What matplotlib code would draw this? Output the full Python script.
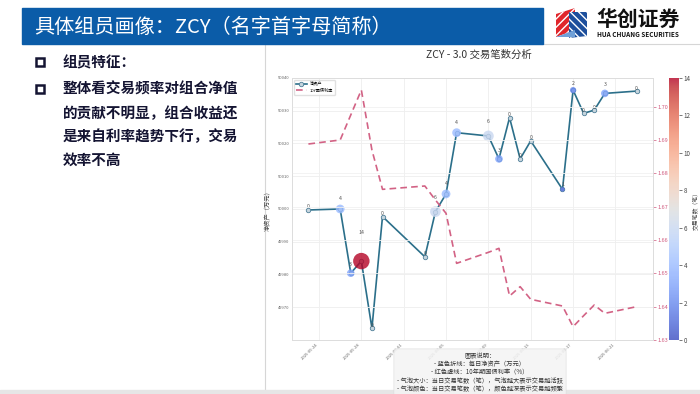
import matplotlib
matplotlib.use('Agg')
import matplotlib.pyplot as plt
import matplotlib.dates as mdates
from matplotlib.patches import Rectangle, Polygon
import numpy as np
import pandas as pd

plt.rcParams['font.family'] = ['Noto Sans CJK SC', 'DejaVu Sans']
plt.rcParams['axes.unicode_minus'] = False

# 数据
dates = ['2025-05-23', '2025-05-26', '2025-05-27', '2025-05-28', '2025-05-29', '2025-05-30',
         '2025-06-03', '2025-06-04', '2025-06-05', '2025-06-06', '2025-06-09', '2025-06-10',
         '2025-06-11', '2025-06-12', '2025-06-13', '2025-06-16', '2025-06-17', '2025-06-18',
         '2025-06-19', '2025-06-20', '2025-06-23']
net_assets = [49999.7, 50000.0, 49980.4, 49984.1, 49963.6, 49997.7, 49985.4, 49999.2,
              50004.6, 50023.3, 50022.3, 50015.3, 50027.9, 50015.3, 50020.8, 50006.0,
              50036.3, 50029.2, 50030.2, 50035.3, 50036.0]
yields = [1.6888, 1.690, 1.6975, 1.705, 1.687, 1.6752, 1.6762, 1.672, 1.668, 1.653,
          1.6563, 1.6575, 1.6432, 1.646, 1.6422, 1.6402, 1.634, 1.6373, 1.6405, 1.638, 1.640]
trades = [0, 4, 3, 14, 0, 0, 0, 6, 4, 4, 6, 3, 0, 0, 0, 1, 2, 0, 0, 3, 0]
tick_dates = ['2025-05-24', '2025-05-28', '2025-06-01', '2025-06-05',
              '2025-06-09', '2025-06-13', '2025-06-17', '2025-06-21']

slide_title = '具体组员画像：ZCY（名字首字母简称）'
bullet_lines = ['组员特征：', '整体看交易频率对组合净值', '的贡献不明显，组合收益还',
                '是来自利率趋势下行，交易', '效率不高']
note_text = ('图表说明：\n- 蓝色折线：每日净资产（万元）\n- 红色虚线：10年期国债利率（%）\n'
             '- 气泡大小：当日交易笔数（笔），气泡越大表示交易越活跃\n'
             '- 气泡颜色：当日交易笔数（笔），颜色越深表示交易越频繁')

W, H = 700, 394
fig = plt.figure(figsize=(7, 3.94), dpi=100)


def box(x0, y0, x1, y1):
    return [x0 / W, 1 - y1 / H, (x1 - x0) / W, (y1 - y0) / H]


# 幻灯片底层
bg = fig.add_axes([0, 0, 1, 1])
bg.set_xlim(0, W)
bg.set_ylim(H, 0)
bg.axis('off')

bg.add_patch(Rectangle((265, 44), 440, 360, fill=False, ec='#d6d6d6', lw=0.8))
bg.add_patch(Rectangle((22, 8), 521, 36, color='#0b5ca8'))
bg.text(34, 27, slide_title, color='white', fontsize=14.5, va='center', ha='left')
bg.add_patch(Rectangle((0, 390), W, 4, color='#e6e6e6'))

# logo
bg.add_patch(Polygon([(556, 14), (575, 8), (575, 30), (556, 37)], closed=True,
                     fc='#e0262b', ec='white', hatch='////', lw=0))
bg.add_patch(Polygon([(569, 12), (587, 12), (587, 36), (569, 38)], closed=True,
                     fc='#1d4f9c', ec='white', hatch='\\\\\\\\', lw=0))
bg.add_patch(Polygon([(556, 37), (575, 30), (575, 37)], closed=True, fc='#6fa0d8', lw=0))
bg.text(638, 19, '华创证券', fontsize=15, fontweight='bold', color='#111111', ha='center', va='center')
bg.text(638, 34.5, 'HUA CHUANG SECURITIES', fontsize=4.6, fontweight='bold', color='#111111',
        ha='center', va='center')

# 左侧文字
line_y = [62.5, 89, 112.7, 136.3, 160]
for i, (ly, txt) in enumerate(zip(line_y, bullet_lines)):
    if i < 2:
        bg.add_patch(Rectangle((35.5, ly - 4.5), 8, 8, fill=False, ec='#141432', lw=1.8))
    bg.text(63, ly, txt, fontsize=10.5, fontweight='bold', color='#141432', va='center', ha='left')

# 图表
x = pd.to_datetime(dates)
ax = fig.add_axes(box(292, 78, 653, 340))
ax2 = ax.twinx()
cax = fig.add_axes(box(669, 78, 679, 340))

ax.set_facecolor('white')
ln1, = ax.plot(x, net_assets, color='#2b6f8a', lw=1.2, marker='o', ms=3.2,
               mfc='#c6d5de', mec='#4f7f98', mew=0.6, label='净资产', zorder=3)
sc = ax.scatter(x, net_assets, s=np.array(trades) * 10, c=trades, cmap='coolwarm',
                vmin=0, vmax=14, alpha=0.8, edgecolors='none', zorder=4)
for xi, yi, n in zip(x, net_assets, trades):
    ax.annotate(str(n), (xi, yi), xytext=(0, (1.85 * n + 3) / 1.389), textcoords='offset points',
                ha='center', va='center', fontsize=3.8, color='#555555', zorder=5)

ln2, = ax2.plot(x, yields, color='#d05a7e', ls='--', dashes=(4, 2.5), lw=1.2,
                label='10Y国债利率', alpha=0.95)

ax.set_ylim(49960, 50040)
ax2.set_ylim(1.6305, 1.7086)
ax.set_xlim(x[0] - pd.Timedelta(days=1.55), x[-1] + pd.Timedelta(days=1.55))

ax.grid(True, color='#eeeeee', lw=0.6)
ax2.grid(True, axis='y', color='#f1f1f1', lw=0.6)
ax.set_axisbelow(True)
for a in (ax, ax2):
    for s in a.spines.values():
        s.set_color('#dddddd')
        s.set_linewidth(0.6)

ax.set_xticks(pd.to_datetime(tick_dates))
ax.xaxis.set_major_formatter(mdates.DateFormatter('%Y-%m-%d'))
plt.setp(ax.get_xticklabels(), rotation=45, ha='right', fontsize=3, color='#777777')
ax.tick_params(axis='both', length=0, labelsize=3, labelcolor='#666666', pad=2)
ax.set_yticks([49970, 49980, 49990, 50000, 50010, 50020, 50030, 50040])
ax.set_ylabel('净资产（万元）', fontsize=4.5, color='#444444', labelpad=4)

ax2.set_yticks([1.63, 1.64, 1.65, 1.66, 1.67, 1.68, 1.69, 1.70])
ax2.yaxis.set_major_formatter(plt.FormatStrFormatter('%.2f'))
ax2.tick_params(axis='y', colors='#d05a7e', labelsize=4, length=2, width=0.5, pad=1.5)

ax2.legend([ln1, ln2], ['净资产', '10Y国债利率'], loc='upper left', fontsize=3,
           frameon=True, framealpha=0.9, edgecolor='#dddddd', handlelength=2.5, borderpad=0.5)

cb = fig.colorbar(sc, cax=cax)
cb.set_ticks(range(0, 15, 2))
cb.outline.set_visible(False)
cb.ax.tick_params(labelsize=4.5, length=2, width=0.5, colors='#444444', pad=1.5)
cb.set_label('交易笔数（笔）', fontsize=4.2, color='#444444', labelpad=0.5)

fig.text(479 / W, 1 - 55 / H, 'ZCY - 3.0 交易笔数分析', ha='center', va='center',
         fontsize=7.5, color='#333333')
fig.text(480 / W, 1 - 352 / H, note_text, ha='center', va='top', fontsize=4.5,
         multialignment='center', linespacing=1.05, color='#333333', zorder=10,
         bbox=dict(boxstyle='round,pad=0.5', fc='#f4f4f4', ec='#dddddd', alpha=0.85, lw=0.5))

fig.savefig('out.png', dpi=100)
